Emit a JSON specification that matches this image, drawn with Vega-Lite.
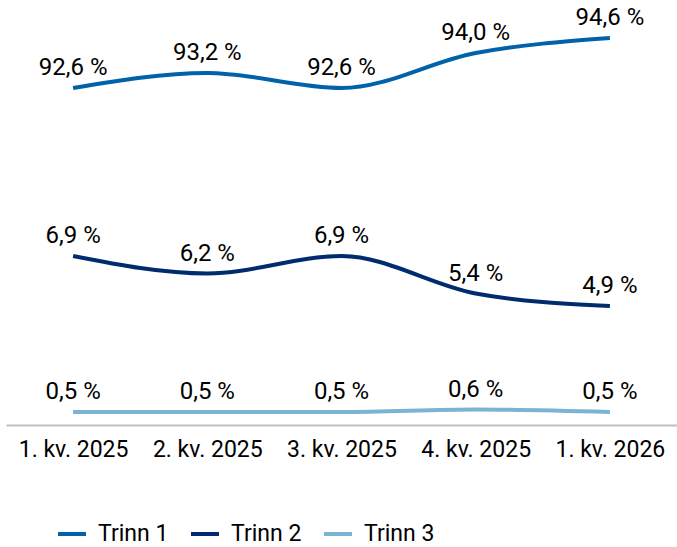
{
  "$schema": "https://vega.github.io/schema/vega-lite/v6.json",
  "width": 671,
  "height": 425,
  "autosize": {"type": "none"},
  "padding": {"left": 6, "top": 0, "right": 0, "bottom": 122},
  "config": {"view": {"stroke": null}, "font": "Roboto"},
  "data": {
    "values": [
      {"kv": "1. kv. 2025", "serie": "Trinn 1", "verdi": 92.6, "etikett": "92,6 %"},
      {"kv": "2. kv. 2025", "serie": "Trinn 1", "verdi": 93.2, "etikett": "93,2 %"},
      {"kv": "3. kv. 2025", "serie": "Trinn 1", "verdi": 92.6, "etikett": "92,6 %"},
      {"kv": "4. kv. 2025", "serie": "Trinn 1", "verdi": 94.0, "etikett": "94,0 %"},
      {"kv": "1. kv. 2026", "serie": "Trinn 1", "verdi": 94.6, "etikett": "94,6 %"},
      {"kv": "1. kv. 2025", "serie": "Trinn 2", "verdi": 6.9, "etikett": "6,9 %"},
      {"kv": "2. kv. 2025", "serie": "Trinn 2", "verdi": 6.2, "etikett": "6,2 %"},
      {"kv": "3. kv. 2025", "serie": "Trinn 2", "verdi": 6.9, "etikett": "6,9 %"},
      {"kv": "4. kv. 2025", "serie": "Trinn 2", "verdi": 5.4, "etikett": "5,4 %"},
      {"kv": "1. kv. 2026", "serie": "Trinn 2", "verdi": 4.9, "etikett": "4,9 %"},
      {"kv": "1. kv. 2025", "serie": "Trinn 3", "verdi": 0.5, "etikett": "0,5 %"},
      {"kv": "2. kv. 2025", "serie": "Trinn 3", "verdi": 0.5, "etikett": "0,5 %"},
      {"kv": "3. kv. 2025", "serie": "Trinn 3", "verdi": 0.5, "etikett": "0,5 %"},
      {"kv": "4. kv. 2025", "serie": "Trinn 3", "verdi": 0.6, "etikett": "0,6 %"},
      {"kv": "1. kv. 2026", "serie": "Trinn 3", "verdi": 0.5, "etikett": "0,5 %"}
    ]
  },
  "encoding": {
    "x": {
      "field": "kv",
      "type": "ordinal",
      "sort": null,
      "scale": {"type": "point", "padding": 0.5},
      "axis": {
        "title": null,
        "labelAngle": 0,
        "ticks": false,
        "grid": false,
        "domainColor": "#BFBFBF",
        "domainWidth": 2,
        "labelFontSize": 23,
        "labelColor": "#000000",
        "labelPadding": 13
      }
    }
  },
  "layer": [
    {
      "transform": [{"filter": "datum.serie === 'Trinn 1'"}],
      "encoding": {
        "y": {"field": "verdi", "type": "quantitative", "scale": {"domain": [79.12, 96.12], "nice": false, "zero": false}, "axis": null}
      },
      "layer": [
        {"mark": {"type": "line", "interpolate": "monotone", "strokeWidth": 4}, "encoding": {"color": {"field": "serie", "type": "nominal"}}},
        {"mark": {"type": "text", "dy": -20, "fontSize": 24, "color": "#000000"}, "encoding": {"text": {"field": "etikett"}}}
      ]
    },
    {
      "transform": [{"filter": "datum.serie === 'Trinn 2'"}],
      "encoding": {
        "y": {"field": "verdi", "type": "quantitative", "scale": {"domain": [0.14, 17.14], "nice": false, "zero": false}, "axis": null}
      },
      "layer": [
        {"mark": {"type": "line", "interpolate": "monotone", "strokeWidth": 4}, "encoding": {"color": {"field": "serie", "type": "nominal"}}},
        {"mark": {"type": "text", "dy": -20, "fontSize": 24, "color": "#000000"}, "encoding": {"text": {"field": "etikett"}}}
      ]
    },
    {
      "transform": [{"filter": "datum.serie === 'Trinn 3'"}],
      "encoding": {
        "y": {"field": "verdi", "type": "quantitative", "scale": {"domain": [-0.02, 16.98], "nice": false, "zero": false}, "axis": null}
      },
      "layer": [
        {"mark": {"type": "line", "interpolate": "monotone", "strokeWidth": 4}, "encoding": {
          "color": {
            "field": "serie", "type": "nominal",
            "scale": {"domain": ["Trinn 1", "Trinn 2", "Trinn 3"], "range": ["#0062A8", "#002B6E", "#7AB3D3"]},
            "legend": {
              "title": null,
              "orient": "none",
              "legendX": 50,
              "legendY": 518,
              "direction": "horizontal",
              "symbolType": "stroke",
              "symbolSize": 784,
              "symbolStrokeWidth": 4,
              "labelFontSize": 23,
              "labelColor": "#000000",
              "labelOffset": 10,
              "columnPadding": 14
            }
          }
        }},
        {"mark": {"type": "text", "dy": -20, "fontSize": 24, "color": "#000000"}, "encoding": {"text": {"field": "etikett"}}}
      ]
    }
  ],
  "resolve": {"scale": {"y": "independent"}}
}
